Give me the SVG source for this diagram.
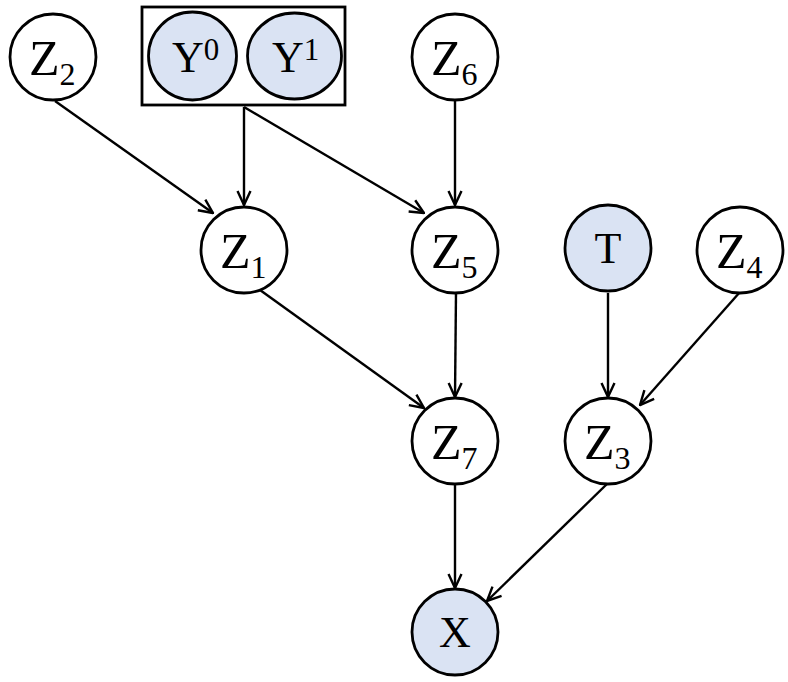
<svg xmlns="http://www.w3.org/2000/svg" width="788" height="682" viewBox="0 0 788 682">
<defs>
<marker id="arr" viewBox="0 0 16 16" refX="15" refY="8" markerWidth="16" markerHeight="16" markerUnits="userSpaceOnUse" orient="auto">
<path d="M1,1.5 L15,8 L1,14.5" fill="none" stroke="#000" stroke-width="2.4"/>
</marker>
</defs>
<style>
.n{fill:#fff;stroke:#000;stroke-width:2.8}
.s{fill:#dae3f3;stroke:#000;stroke-width:2.8}
.z{font-family:"Liberation Serif",serif;font-size:50px;fill:#000}
.sub{font-size:32px}
.t{font-family:"Liberation Serif",serif;font-size:44px;fill:#000}
.e{stroke:#000;stroke-width:2.4;fill:none;marker-end:url(#arr)}
</style>
<rect width="788" height="682" fill="#fff"/>
<g id="connectors">
<line class="e" x1="55" y1="101" x2="213" y2="213"/>
<line class="e" x1="244" y1="107" x2="244" y2="205"/>
<line class="e" x1="244" y1="107" x2="424" y2="213"/>
<line class="e" x1="455" y1="100" x2="455" y2="205"/>
<line class="e" x1="260" y1="290" x2="424" y2="408"/>
<line class="e" x1="456" y1="292" x2="455" y2="397"/>
<line class="e" x1="608" y1="293" x2="608" y2="397"/>
<line class="e" x1="740" y1="292" x2="640" y2="405"/>
<line class="e" x1="455" y1="484" x2="455" y2="588"/>
<line class="e" x1="608" y1="483" x2="487" y2="601"/>
</g>
<g id="Y">
<rect x="142" y="7" width="203" height="98" fill="#fff" stroke="#000" stroke-width="2.8"/>
<g id="Y0">
<ellipse class="s" cx="192.5" cy="56" rx="44" ry="44"/>
<text class="t" x="172" y="72">Y<tspan font-size="31" dy="-12">0</tspan></text>
</g>
<g id="Y1">
<ellipse class="s" cx="294.5" cy="56" rx="47" ry="43"/>
<text class="t" x="272" y="72">Y<tspan font-size="31" dy="-12">1</tspan></text>
</g>
</g>
<g id="Z2"><circle class="n" cx="53" cy="57" r="43"/><text class="z" x="29" y="75">Z<tspan class="sub" dy="10">2</tspan></text></g>
<g id="Z6"><circle class="n" cx="455" cy="57" r="43"/><text class="z" x="431" y="75">Z<tspan class="sub" dy="10">6</tspan></text></g>
<g id="Z1"><circle class="n" cx="244" cy="250" r="43"/><text class="z" x="220" y="268">Z<tspan class="sub" dy="10">1</tspan></text></g>
<g id="Z5"><circle class="n" cx="455" cy="250" r="43"/><text class="z" x="431" y="268">Z<tspan class="sub" dy="10">5</tspan></text></g>
<g id="T"><circle class="s" cx="608" cy="248" r="43"/><text class="t" x="608" y="263" text-anchor="middle">T</text></g>
<g id="Z4"><circle class="n" cx="740" cy="250" r="43"/><text class="z" x="716" y="268">Z<tspan class="sub" dy="10">4</tspan></text></g>
<g id="Z7"><circle class="n" cx="455" cy="441" r="43"/><text class="z" x="431" y="459">Z<tspan class="sub" dy="10">7</tspan></text></g>
<g id="Z3"><circle class="n" cx="608" cy="441" r="43"/><text class="z" x="584" y="459">Z<tspan class="sub" dy="10">3</tspan></text></g>
<g id="X"><circle class="s" cx="455" cy="632" r="43"/><text class="t" x="455" y="647" text-anchor="middle">X</text></g>
</svg>
